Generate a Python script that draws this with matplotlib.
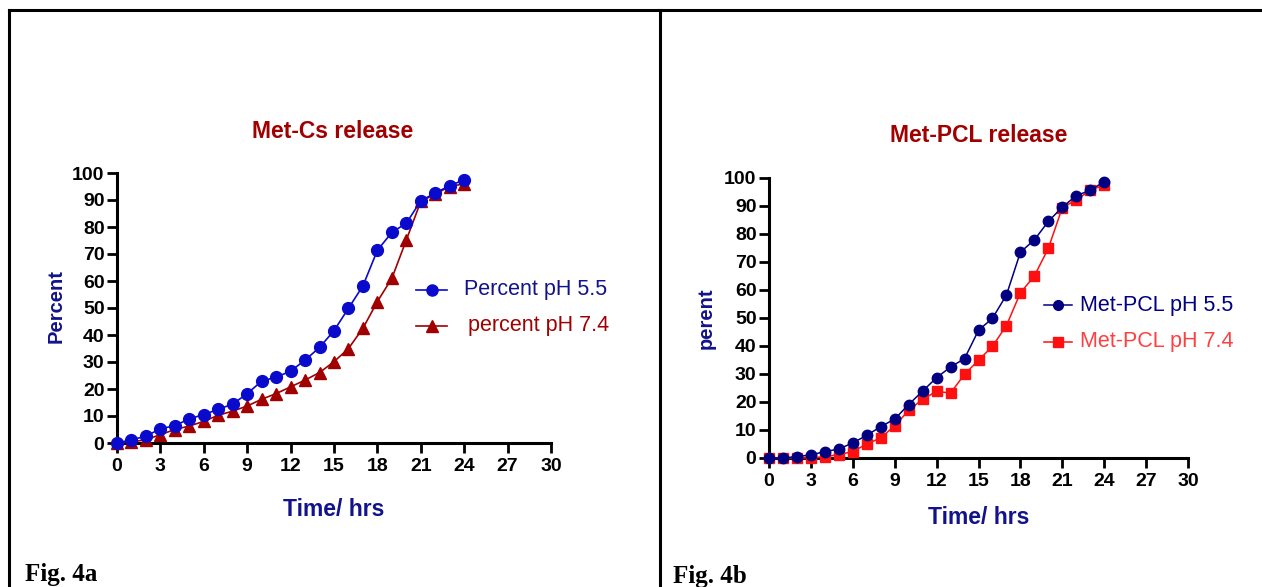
import matplotlib
matplotlib.use("Agg")
import matplotlib.pyplot as plt
from matplotlib.lines import Line2D

# ---------------- data ----------------
time_hrs = list(range(0, 25))

cs_ph55 = [0, 1.2, 2.5, 5.3, 6.4, 9.0, 10.5, 12.5, 14.4, 18.3, 22.9, 24.4, 26.6,
           30.7, 35.4, 41.6, 49.9, 58.2, 71.4, 78.0, 81.4, 89.7, 92.6, 95.3, 97.5]
cs_ph74 = [0, 0.4, 1.2, 3.1, 5.0, 6.3, 8.0, 10.3, 11.8, 13.7, 16.2, 18.3, 20.8,
           23.3, 26.1, 30.1, 35.0, 42.5, 52.4, 61.0, 75.2, 89.5, 92.2, 95.0, 96.0]

pcl_ph55 = [0, 0, 0.5, 1.1, 2.3, 3.2, 5.4, 8.1, 11.2, 13.9, 19.1, 23.9, 28.7,
            32.5, 35.5, 45.6, 49.9, 58.2, 73.5, 77.9, 84.5, 89.6, 93.7, 95.6, 98.7]
pcl_ph74 = [0, 0, 0, 0, 0.5, 1.2, 2.3, 5.0, 7.2, 11.5, 17.0, 21.0, 23.8,
            23.2, 29.9, 34.9, 39.9, 47.3, 59.0, 65.0, 74.9, 89.4, 92.2, 95.6, 97.5]

x_ticks = [0, 3, 6, 9, 12, 15, 18, 21, 24, 27, 30]
y_ticks = [0, 10, 20, 30, 40, 50, 60, 70, 80, 90, 100]

titles = ["Met-Cs release", "Met-PCL release"]
ylabels = ["Percent", "perent"]
xlabel = "Time/ hrs"
legend_a = ["Percent pH 5.5", "percent pH 7.4"]
legend_b = ["Met-PCL pH 5.5", "Met-PCL pH 7.4"]
captions = ["Fig. 4a", "Fig. 4b"]

# ---------------- figure ----------------
W, H = 1262, 587
fig = plt.figure(figsize=(W / 100, H / 100), dpi=100)
plt.rcParams['font.family'] = ['Liberation Sans', 'DejaVu Sans']

def fx(px):
    return px / W

def fy(py):
    return 1 - py / H

# frame lines
for (x0, y0, x1, y1) in [(9, 10, 1262, 10), (9, 10, 9, 587), (660, 10, 660, 587)]:
    fig.add_artist(Line2D([fx(x0), fx(x1)], [fy(y0), fy(y1)], color="black",
                          lw=2.2, transform=fig.transFigure))

NAVY_TXT = "#12128a"
DARKRED = "#a00000"

def make_axes(x0, x30, y0, y100):
    ax = fig.add_axes([fx(x0), fy(y0), fx(x30) - fx(x0), fy(y100) - fy(y0)])
    ax.set_xlim(0, 30)
    ax.set_ylim(0, 100)
    ax.spines['top'].set_visible(False)
    ax.spines['right'].set_visible(False)
    for s in ('left', 'bottom'):
        ax.spines[s].set_linewidth(2.2)
    ax.set_xticks(x_ticks)
    ax.set_yticks(y_ticks)
    ax.tick_params(axis='both', width=2, length=7, labelsize=14, colors='black')
    for lab in ax.get_xticklabels() + ax.get_yticklabels():
        lab.set_fontweight('bold')
    ax.tick_params(axis='y', pad=2)
    ax.tick_params(axis='x', pad=4)
    ax.patch.set_alpha(0)
    return ax

# ----- left panel -----
axa = make_axes(117, 551, 443, 173)
axa.plot(time_hrs, cs_ph55, color="#0a0acc", marker='o', markersize=8.5,
         lw=1.2, clip_on=False, zorder=4)
axa.plot(time_hrs, cs_ph74, color="#a00000", marker='^', markersize=8,
         lw=1.2, clip_on=False, zorder=3)
fig.text(fx(333), fy(131), titles[0], color=DARKRED, fontsize=16.5,
         fontweight='bold', ha='center', va='center')
fig.text(fx(334), fy(509), xlabel, color=NAVY_TXT, fontsize=16.5,
         fontweight='bold', ha='center', va='center')
fig.text(fx(56), fy(306), ylabels[0], color=NAVY_TXT, fontsize=14.5,
         fontweight='bold', ha='center', va='center', rotation=90)
# legend (manual)
for i, (lab, col, tcol, mk) in enumerate([(legend_a[0], "#0a0acc", NAVY_TXT, 'o'),
                                          (legend_a[1], "#a00000", DARKRED, '^')]):
    yy = 290 + 36 * i
    fig.add_artist(Line2D([fx(416), fx(447)], [fy(yy), fy(yy)], color=col, lw=1.2,
                          transform=fig.transFigure))
    fig.add_artist(Line2D([fx(431.5)], [fy(yy)], color=col, marker=mk,
                          markersize=8, transform=fig.transFigure))
    fig.text(fx(464 + 4 * i), fy(yy), lab, color=tcol, fontsize=15.5,
             ha='left', va='center')

# ----- right panel -----
axb = make_axes(769, 1188, 458, 178)
axb.plot(time_hrs, pcl_ph55, color="#000080", marker='o', markersize=7.5,
         lw=1.1, clip_on=False, zorder=4)
axb.plot(time_hrs, pcl_ph74, color="#ff1010", marker='s', markersize=7.5,
         lw=1.1, clip_on=False, zorder=3)
fig.text(fx(979), fy(135), titles[1], color=DARKRED, fontsize=16.5,
         fontweight='bold', ha='center', va='center')
fig.text(fx(979), fy(518), xlabel, color=NAVY_TXT, fontsize=16.5,
         fontweight='bold', ha='center', va='center')
fig.text(fx(706), fy(318), ylabels[1], color=NAVY_TXT, fontsize=14.5,
         fontweight='bold', ha='center', va='center', rotation=90)
for i, (lab, col, tcol, mk) in enumerate([(legend_b[0], "#000080", "#000080", 'o'),
                                          (legend_b[1], "#ff1010", "#ff4040", 's')]):
    yy = 305 + 37 * i
    fig.add_artist(Line2D([fx(1044), fx(1072)], [fy(yy), fy(yy)], color=col, lw=1.1,
                          transform=fig.transFigure))
    fig.add_artist(Line2D([fx(1058)], [fy(yy)], color=col, marker=mk,
                          markersize=7, transform=fig.transFigure))
    fig.text(fx(1080), fy(yy), lab, color=tcol, fontsize=15.5,
             ha='left', va='center')

# captions
fig.text(fx(25), fy(574), captions[0], family=['Liberation Serif', 'DejaVu Serif'],
         fontsize=18, fontweight='bold', ha='left', va='center')
fig.text(fx(673), fy(576), captions[1], family=['Liberation Serif', 'DejaVu Serif'],
         fontsize=18, fontweight='bold', ha='left', va='center')

fig.savefig("out.png", dpi=100)
